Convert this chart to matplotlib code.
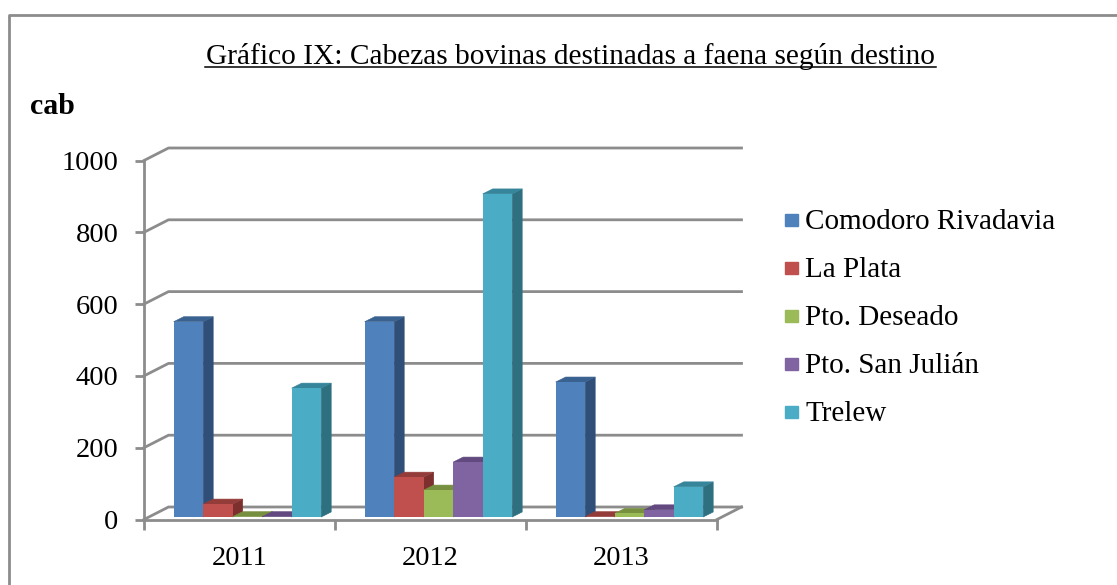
import matplotlib
matplotlib.use("Agg")
import matplotlib.pyplot as plt
from matplotlib.patches import Rectangle

years = ["2011", "2012", "2013"]
destinos = ["Comodoro Rivadavia", "La Plata", "Pto. Deseado", "Pto. San Julián", "Trelew"]
comodoro = [544, 544, 376]
la_plata = [36, 111, 1]
deseado = [1, 75, 10]
san_julian = [1, 153, 20]
trelew = [359, 900, 84]
series = [comodoro, la_plata, deseado, san_julian, trelew]

front = ["#4F81BD", "#C0504D", "#9BBB59", "#8064A2", "#4BACC6"]
side = ["#2F4F78", "#7C2F2D", "#637A35", "#4F3D68", "#2E6F80"]
top = ["#3A6291", "#943C3A", "#77903F", "#62497F", "#36859A"]
gris = "#8C8C8C"

plt.rcParams["font.family"] = ["Liberation Serif", "DejaVu Serif"]

W, H = 1117, 585
fig = plt.figure(figsize=(W / 100, H / 100), dpi=100)

# capa en pixeles para marco, titulo y leyenda
bg = fig.add_axes([0, 0, 1, 1])
bg.set_xlim(0, W)
bg.set_ylim(H, 0)
bg.axis("off")
bg.plot([9, 9, W], [H, 15, 15], color=gris, lw=2)
bg.text(570.5, 56.5, "Gráfico IX: Cabezas bovinas destinadas a faena según destino",
        ha="center", va="center", fontsize=21.2, color="black")
bg.plot([205, 936], [67, 67], color="black", lw=1.1)
bg.text(30, 106.5, "cab", ha="left", va="center", fontsize=21.5, fontweight="bold")

for j, nombre in enumerate(destinos):
    yy = 220 + j * 48
    bg.add_patch(Rectangle((785, yy - 6), 13, 12, color=front[j]))
    bg.text(805, yy + 2, nombre, ha="left", va="center", fontsize=21, color="black")

# ejes del plano frontal
left, right, base_px, top_px = 144, 717, 519.5, 160.5
ax = fig.add_axes([left / W, 1 - base_px / H, (right - left) / W, (base_px - top_px) / H])
ax.patch.set_alpha(0)
ax.set_xlim(0, 3)
ax.set_ylim(0, 1000)
px = 3 / (right - left)
py = 1000 / (base_px - top_px)

# pared del fondo
dx, dy = 24.5 * px, 12.5 * py
yticks = [0, 200, 400, 600, 800, 1000]
for v in yticks:
    ax.plot([0, dx, 3 + dx], [v, v + dy, v + dy], color=gris, lw=2, clip_on=False, zorder=1)
ax.plot([3, 3 + dx], [0, dy], color=gris, lw=2, clip_on=False, zorder=1)

# barras con profundidad
ancho = 29.5 * px
margen = 29.7 * px
bx, by = 10 * px, 5 * py
piso = 2.5 * py
for i in range(len(years)):
    for j, valores in enumerate(series):
        x0 = i + margen + j * ancho
        y1 = piso + valores[i]
        ax.fill([x0 + ancho, x0 + ancho + bx, x0 + ancho + bx, x0 + ancho],
                [piso, piso + by, y1 + by, y1], facecolor=side[j], edgecolor=side[j], lw=0.4,
                clip_on=False, zorder=3)
        ax.fill([x0, x0 + bx, x0 + ancho + bx, x0 + ancho],
                [y1, y1 + by, y1 + by, y1], facecolor=top[j], edgecolor=top[j], lw=0.4,
                clip_on=False, zorder=3)
        ax.bar(x0, valores[i], width=ancho, bottom=piso, align="edge", color=front[j],
               lw=0, clip_on=False, zorder=3)

for s in ["top", "right"]:
    ax.spines[s].set_visible(False)
for s in ["left", "bottom"]:
    ax.spines[s].set_color(gris)
    ax.spines[s].set_linewidth(2)
    ax.spines[s].set_zorder(2)

ax.set_yticks(yticks)
ax.tick_params(axis="y", length=6.5, width=2, color=gris, labelsize=20.5, pad=12)
ax.set_xticks([0, 1, 2, 3])
ax.set_xticklabels([])
ax.tick_params(axis="x", which="major", length=7, width=2, color=gris)
ax.set_xticks([0.5, 1.5, 2.5], minor=True)
ax.set_xticklabels(years, minor=True)
ax.tick_params(axis="x", which="minor", length=0, labelsize=20.5, pad=19)

fig.savefig("out.png", dpi=100)
